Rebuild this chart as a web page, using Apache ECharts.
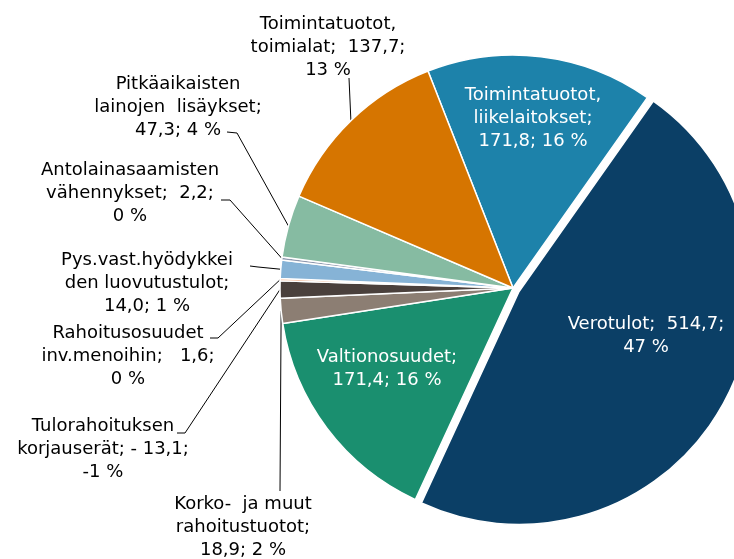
<!DOCTYPE html>
<html>
<head>
<meta charset="utf-8">
<script src="https://cdn.jsdelivr.net/npm/echarts@6/dist/echarts.min.js"></script>
<style>
  html, body { margin: 0; padding: 0; background: #fff; }
  #main { width: 734px; height: 559px; }
</style>
</head>
<body>
<div id="main"></div>
<script>
// slices, clockwise from the blue one at the top
var names = [
    'Toimintatuotot, liikelaitokset',
    'Verotulot',
    'Valtionosuudet',
    'Korko- ja muut rahoitustuotot',
    'Tulorahoituksen korjauserät',
    'Rahoitusosuudet inv.menoihin',
    'Pys.vast.hyödykkeiden luovutustulot',
    'Antolainasaamisten vähennykset',
    'Pitkäaikaisten lainojen lisäykset',
    'Toimintatuotot, toimialat'
];
var values = [171.8, 514.7, 171.4, 18.9, -13.1, 1.6, 14.0, 2.2, 47.3, 137.7];
var labelTexts = [
    'Toimintatuotot,\nliikelaitokset;\n171,8; 16 %',
    'Verotulot;  514,7;\n47 %',
    'Valtionosuudet;\n171,4; 16 %',
    'Korko-  ja muut\nrahoitustuotot;\n18,9; 2 %',
    'Tulorahoituksen\nkorjauserät; - 13,1;\n-1 %',
    'Rahoitusosuudet\ninv.menoihin;   1,6;\n0 %',
    'Pys.vast.hyödykkei\nden luovutustulot;\n14,0; 1 %',
    'Antolainasaamisten\nvähennykset;  2,2;\n0 %',
    'Pitkäaikaisten\nlainojen  lisäykset;\n47,3; 4 %',
    'Toimintatuotot,\ntoimialat;  137,7;\n13 %'
];
var colors = ['#1d82aa', '#0b3f66', '#1a8f6f', '#8c7e73', '#4a403c',
              '#f2a477', '#86b3d6', '#8e97ad', '#86bba2', '#d67500'];
var insideSlices = [0, 1, 2];
var explodedSlice = 1;

// where Excel put the labels: text centre x, top y, leader line bend points
var labelSpots = [
    { x: 533, y: 84 },
    { x: 646, y: 313 },
    { x: 387, y: 346 },
    { x: 243, y: 493, line: [[280, 491]] },
    { x: 103, y: 415, line: [[185, 433], [177, 433]] },
    { x: 128, y: 322, line: [[218, 338], [210, 338]] },
    { x: 147, y: 249, line: [[258, 267], [250, 266]] },
    { x: 130, y: 159, line: [[230, 200], [221, 200]] },
    { x: 178, y: 73, line: [[237, 133], [227, 132]] },
    { x: 328, y: 13, line: [[349, 78]] }
];

var pieCenter = [513, 288];
var pieRadius = 233;
var startAngle = 111.4;
var explodeOffset = 7;

var chart = echarts.init(document.getElementById('main'));

var absValues = values.map(function (v) { return Math.abs(v); });
var total = absValues.reduce(function (a, b) { return a + b; }, 0);
var before = 0;
for (var k = 0; k < explodedSlice; k++) before += absValues[k];
var midDeg = startAngle - (before + absValues[explodedSlice] / 2) / total * 360;
var midRad = midDeg * Math.PI / 180;
var explodedCenter = [
    pieCenter[0] + Math.cos(midRad) * explodeOffset,
    pieCenter[1] - Math.sin(midRad) * explodeOffset
];

// main pie: every slice with its label, the exploded one left empty
var mainData = names.map(function (n, i) {
    var inside = insideSlices.indexOf(i) >= 0;
    var hidden = i === explodedSlice;
    return {
        name: n,
        value: absValues[i],
        itemStyle: hidden ? { color: 'rgba(0,0,0,0)', borderWidth: 0 } : { color: colors[i] },
        label: inside ? { position: 'inside', color: '#fff' } : { position: 'outside', color: '#000' },
        labelLine: { show: !inside }
    };
});

// second pie: only the exploded slice, drawn from a shifted centre
var explodedData = names.map(function (n, i) {
    var shown = i === explodedSlice;
    return {
        name: n,
        value: absValues[i],
        itemStyle: shown ? { color: colors[i] } : { color: 'rgba(0,0,0,0)', borderWidth: 0 }
    };
});

var option = {
    backgroundColor: '#fff',
    animation: false,
    series: [{
        type: 'pie',
        z: 1,
        center: explodedCenter,
        radius: pieRadius,
        startAngle: startAngle,
        clockwise: true,
        silent: true,
        itemStyle: { borderColor: '#fff', borderWidth: 1.5 },
        label: { show: false },
        labelLine: { show: false },
        data: explodedData
    }, {
        type: 'pie',
        z: 2,
        center: pieCenter,
        radius: pieRadius,
        startAngle: startAngle,
        clockwise: true,
        avoidLabelOverlap: false,
        silent: true,
        itemStyle: { borderColor: '#fff', borderWidth: 1.5 },
        label: {
            fontFamily: 'DejaVu Sans',
            fontSize: 18,
            lineHeight: 23,
            formatter: function (p) { return labelTexts[p.dataIndex]; }
        },
        labelLine: { show: true, lineStyle: { color: '#000', width: 1 } },
        labelLayout: function (p) {
            var s = labelSpots[p.dataIndex];
            var res = { x: s.x, y: s.y, align: 'center', verticalAlign: 'top' };
            if (s.line && p.labelLinePoints) {
                res.labelLinePoints = [p.labelLinePoints[0]].concat(s.line);
            }
            return res;
        },
        data: mainData
    }]
};

chart.setOption(option);
</script>
</body>
</html>
